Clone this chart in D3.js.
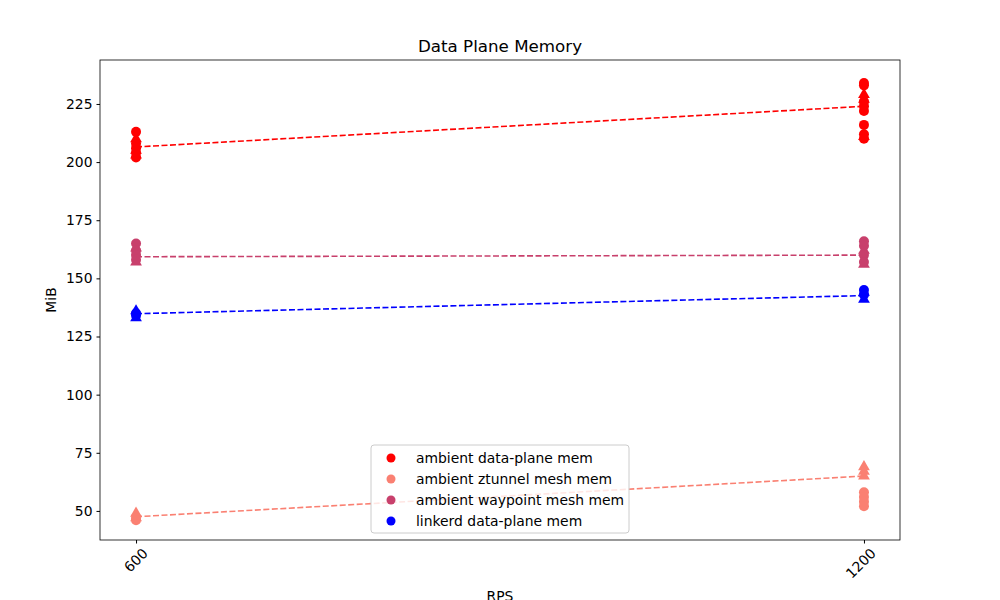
<!DOCTYPE html>
<html><head><meta charset="utf-8">
<script src="https://cdnjs.cloudflare.com/ajax/libs/d3/7.9.0/d3.min.js"></script>
<style>body{margin:0;background:#fff}text{font-family:"DejaVu Sans",sans-serif}</style>
</head><body><div id="chart"></div>
<script>
// series: name, colour, points at 600 and 1200 (circle / triangle), trend ends
const seriesNames = ['ambient data-plane mem', 'ambient ztunnel mesh mem', 'ambient waypoint mesh mem', 'linkerd data-plane mem'];
const seriesColors = ['#ff0000', '#fa8072', '#c8406c', '#0000ff'];
const circles600 = [[213, 208, 206, 204, 202], [47, 46], [165, 162, 160, 158], [135, 134]];
const triangles600 = [[210, 205, 203], [49, 47], [163, 157], [136, 133]];
const circles1200 = [[234, 233, 226, 224, 222, 216, 212, 210], [58, 56, 54, 52], [166, 164, 160, 157], [145, 143]];
const triangles1200 = [[229, 227, 211], [69, 67, 65], [162, 156], [144, 141]];
const trend = [[206.5, 224], [47.5, 65], [159.3, 160], [134.8, 142.6]];
const xTicks = [600, 1200];
const yTicks = [50, 75, 100, 125, 150, 175, 200, 225];

const W = 1000, H = 600, L = 100, R = 900, T = 60, B = 540;
const svg = d3.select('#chart').append('svg').attr('width', W).attr('height', H);
const x = d3.scaleLinear().domain([570.3, 1229.7]).range([L, R]);
const y = d3.scaleLinear().domain([37.5, 243.9]).range([B, T]);

svg.append('text').attr('x', 500).attr('y', 52).attr('text-anchor', 'middle').attr('font-size', 16.7).text('Data Plane Memory');

const xa = svg.append('g').attr('transform', `translate(0,${B})`)
  .call(d3.axisBottom(x).tickValues(xTicks).tickFormat(d3.format('d')).tickSize(3.5).tickPadding(4));
xa.selectAll('text').attr('font-size', 13.9).attr('text-anchor', 'end')
  .attr('transform', 'rotate(-45)').attr('dx', '-0.1em').attr('dy', '0.8em');
const ya = svg.append('g').attr('transform', `translate(${L},0)`)
  .call(d3.axisLeft(y).tickValues(yTicks).tickSize(3.5).tickPadding(4));
ya.selectAll('text').attr('font-size', 13.9);
[xa, ya].forEach(a => { a.select('.domain').remove(); a.selectAll('line').attr('stroke', '#000'); });
svg.append('rect').attr('x', L).attr('y', T).attr('width', R - L).attr('height', B - T)
  .attr('fill', 'none').attr('stroke', '#000').attr('stroke-width', 0.8);

svg.append('text').attr('x', 500).attr('y', 601).attr('text-anchor', 'middle').attr('font-size', 13.9).text('RPS');
svg.append('text').attr('transform', `translate(56,300) rotate(-90)`).attr('text-anchor', 'middle').attr('font-size', 13.9).text('MiB');

const tri = d3.symbol().type(d3.symbolTriangle).size(60);
seriesNames.forEach((name, i) => {
  const c = seriesColors[i];
  const g = svg.append('g');
  [[600, circles600[i], triangles600[i]], [1200, circles1200[i], triangles1200[i]]].forEach(([rps, cs, ts]) => {
    g.selectAll(null).data(ts).join('path').attr('d', tri)
      .attr('transform', v => `translate(${x(rps)},${y(v)})`).attr('fill', c);
    g.selectAll(null).data(cs).join('circle').attr('cx', x(rps)).attr('cy', v => y(v)).attr('r', 5).attr('fill', c);
  });
  g.append('line').attr('x1', x(600)).attr('x2', x(1200)).attr('y1', y(trend[i][0])).attr('y2', y(trend[i][1]))
    .attr('stroke', c).attr('stroke-width', 1.6).attr('stroke-dasharray', '6,2.5');
});

const lg = svg.append('g').attr('transform', 'translate(371,445)');
lg.append('rect').attr('width', 258).attr('height', 88).attr('rx', 3).attr('fill', '#fff')
  .attr('fill-opacity', 0.8).attr('stroke', '#ccc');
seriesNames.forEach((name, i) => {
  const yy = 13 + i * 21;
  lg.append('circle').attr('cx', 20).attr('cy', yy).attr('r', 4.5).attr('fill', seriesColors[i]);
  lg.append('text').attr('x', 45).attr('y', yy + 5).attr('font-size', 13.9).text(name);
});
</script></body></html>
